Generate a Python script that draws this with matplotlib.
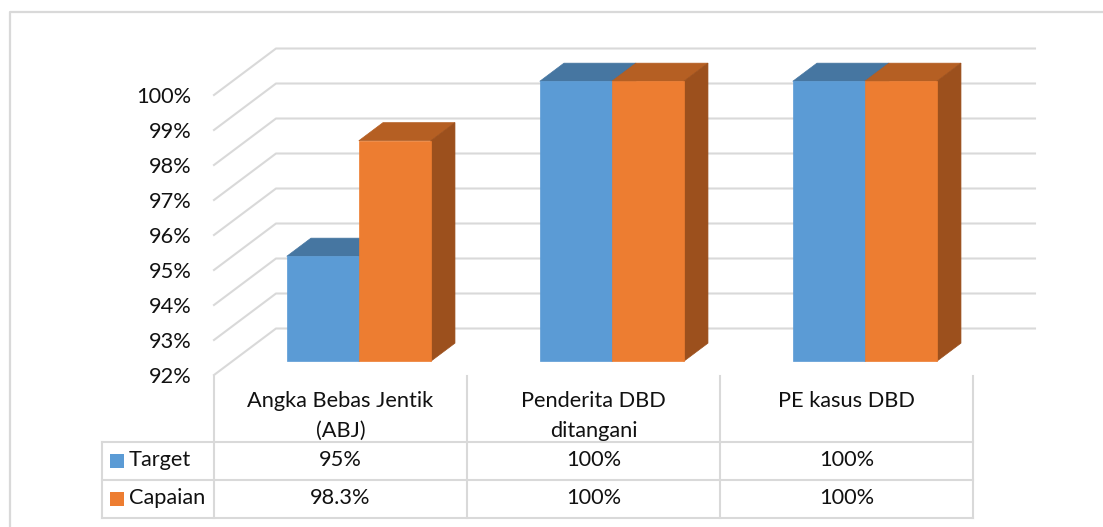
import matplotlib
matplotlib.use("Agg")
import matplotlib.pyplot as plt
from matplotlib.patches import Polygon, Rectangle

categories = ["Angka Bebas Jentik\n(ABJ)", "Penderita DBD\nditangani", "PE kasus DBD"]
series_names = ["Target", "Capaian"]
target = [95, 100, 100]
capaian = [98.3, 100, 100]
target_labels = ["95%", "100%", "100%"]
capaian_labels = ["98.3%", "100%", "100%"]
y_ticks = [92, 93, 94, 95, 96, 97, 98, 99, 100]

W, H = 1103, 527
GRID = "#D9D9D9"
TXT = "#111111"
FS = 15.7
plt.rcParams["font.family"] = ["Lato", "DejaVu Sans"]

fig = plt.figure(figsize=(W / 100, H / 100), dpi=100)

# overlay in pixels for the frame and the data table
tb = fig.add_axes([0, 0, 1, 1])
tb.set_xlim(0, W)
tb.set_ylim(H, 0)
tb.axis("off")

# outer frame, only top and left are inside the picture
tb.plot([10, 10, W], [H, 12, 12], color=GRID, lw=1.6)

# front plane of the chart
ax = fig.add_axes([214 / W, (H - 375) / H, 759 / W, 280 / H])
ax.set_xlim(0, 3)
ax.set_ylim(92, 100)
ax.patch.set_alpha(0)
for s in ax.spines.values():
    s.set_visible(False)
ax.set_xticks([])
ax.set_yticks(y_ticks)
ax.set_yticklabels([f"{v}%" for v in y_ticks], fontsize=FS, color=TXT)
ax.tick_params(axis="y", length=0, pad=16)

# depth of the 3D box: how far the back wall sits from the front plane
DX = 62 / 253
DY = 46.5 / 35


def proj(x, y, z):
    return (x + z * DX, y + z * DY)


# walls
for v in y_ticks:
    ax.plot([0, DX, 3 + DX], [v, v + DY, v + DY], color=GRID, lw=1.5, clip_on=False, zorder=1)

BAR_W = 72 / 253
Z0, Z1 = 0.295, 0.685
BASE = 92


def bar3d(x0, val, front, top, side):
    x1 = x0 + BAR_W
    ax.add_patch(Polygon([proj(x0, BASE, Z0), proj(x1, BASE, Z0), proj(x1, val, Z0), proj(x0, val, Z0)],
                         fc=front, ec=front, lw=0.5, clip_on=False, zorder=3))
    ax.add_patch(Polygon([proj(x0, val, Z0), proj(x1, val, Z0), proj(x1, val, Z1), proj(x0, val, Z1)],
                         fc=top, ec=top, lw=0.5, clip_on=False, zorder=2))
    ax.add_patch(Polygon([proj(x1, BASE, Z0), proj(x1, val, Z0), proj(x1, val, Z1), proj(x1, BASE, Z1)],
                         fc=side, ec=side, lw=0.5, clip_on=False, zorder=2))


for i in range(len(categories)):
    bar3d(i + 0.5 - BAR_W, target[i], "#5B9BD5", "#4676A1", "#3F6F9B")
    bar3d(i + 0.5, capaian[i], "#ED7D31", "#B55F23", "#9C501D")

# data table
col_x = [214, 467, 720, 973]
row_y = [442, 480, 518]
LEFT = 102
for x in col_x:
    tb.plot([x, x], [376, 518], color=GRID, lw=1.5)
tb.plot([LEFT, LEFT], [442, 518], color=GRID, lw=1.5)
for y in row_y:
    tb.plot([LEFT, 973], [y, y], color=GRID, lw=1.5)

for i, c in enumerate(categories):
    cx = (col_x[i] + col_x[i + 1]) / 2
    tb.text(cx, 391, c, ha="center", va="top", fontsize=FS, color=TXT, linespacing=1.64)
    tb.text(cx, 460.5, target_labels[i], ha="center", va="center", fontsize=FS, color=TXT)
    tb.text(cx, 498.5, capaian_labels[i], ha="center", va="center", fontsize=FS, color=TXT)

for name, y, col in zip(series_names, [460.5, 498.5], ["#5B9BD5", "#ED7D31"]):
    tb.add_patch(Rectangle((110, y - 7), 14, 14, fc=col, ec="none"))
    tb.text(129, y, name, ha="left", va="center", fontsize=FS, color=TXT)

fig.savefig("out.png", dpi=100)
